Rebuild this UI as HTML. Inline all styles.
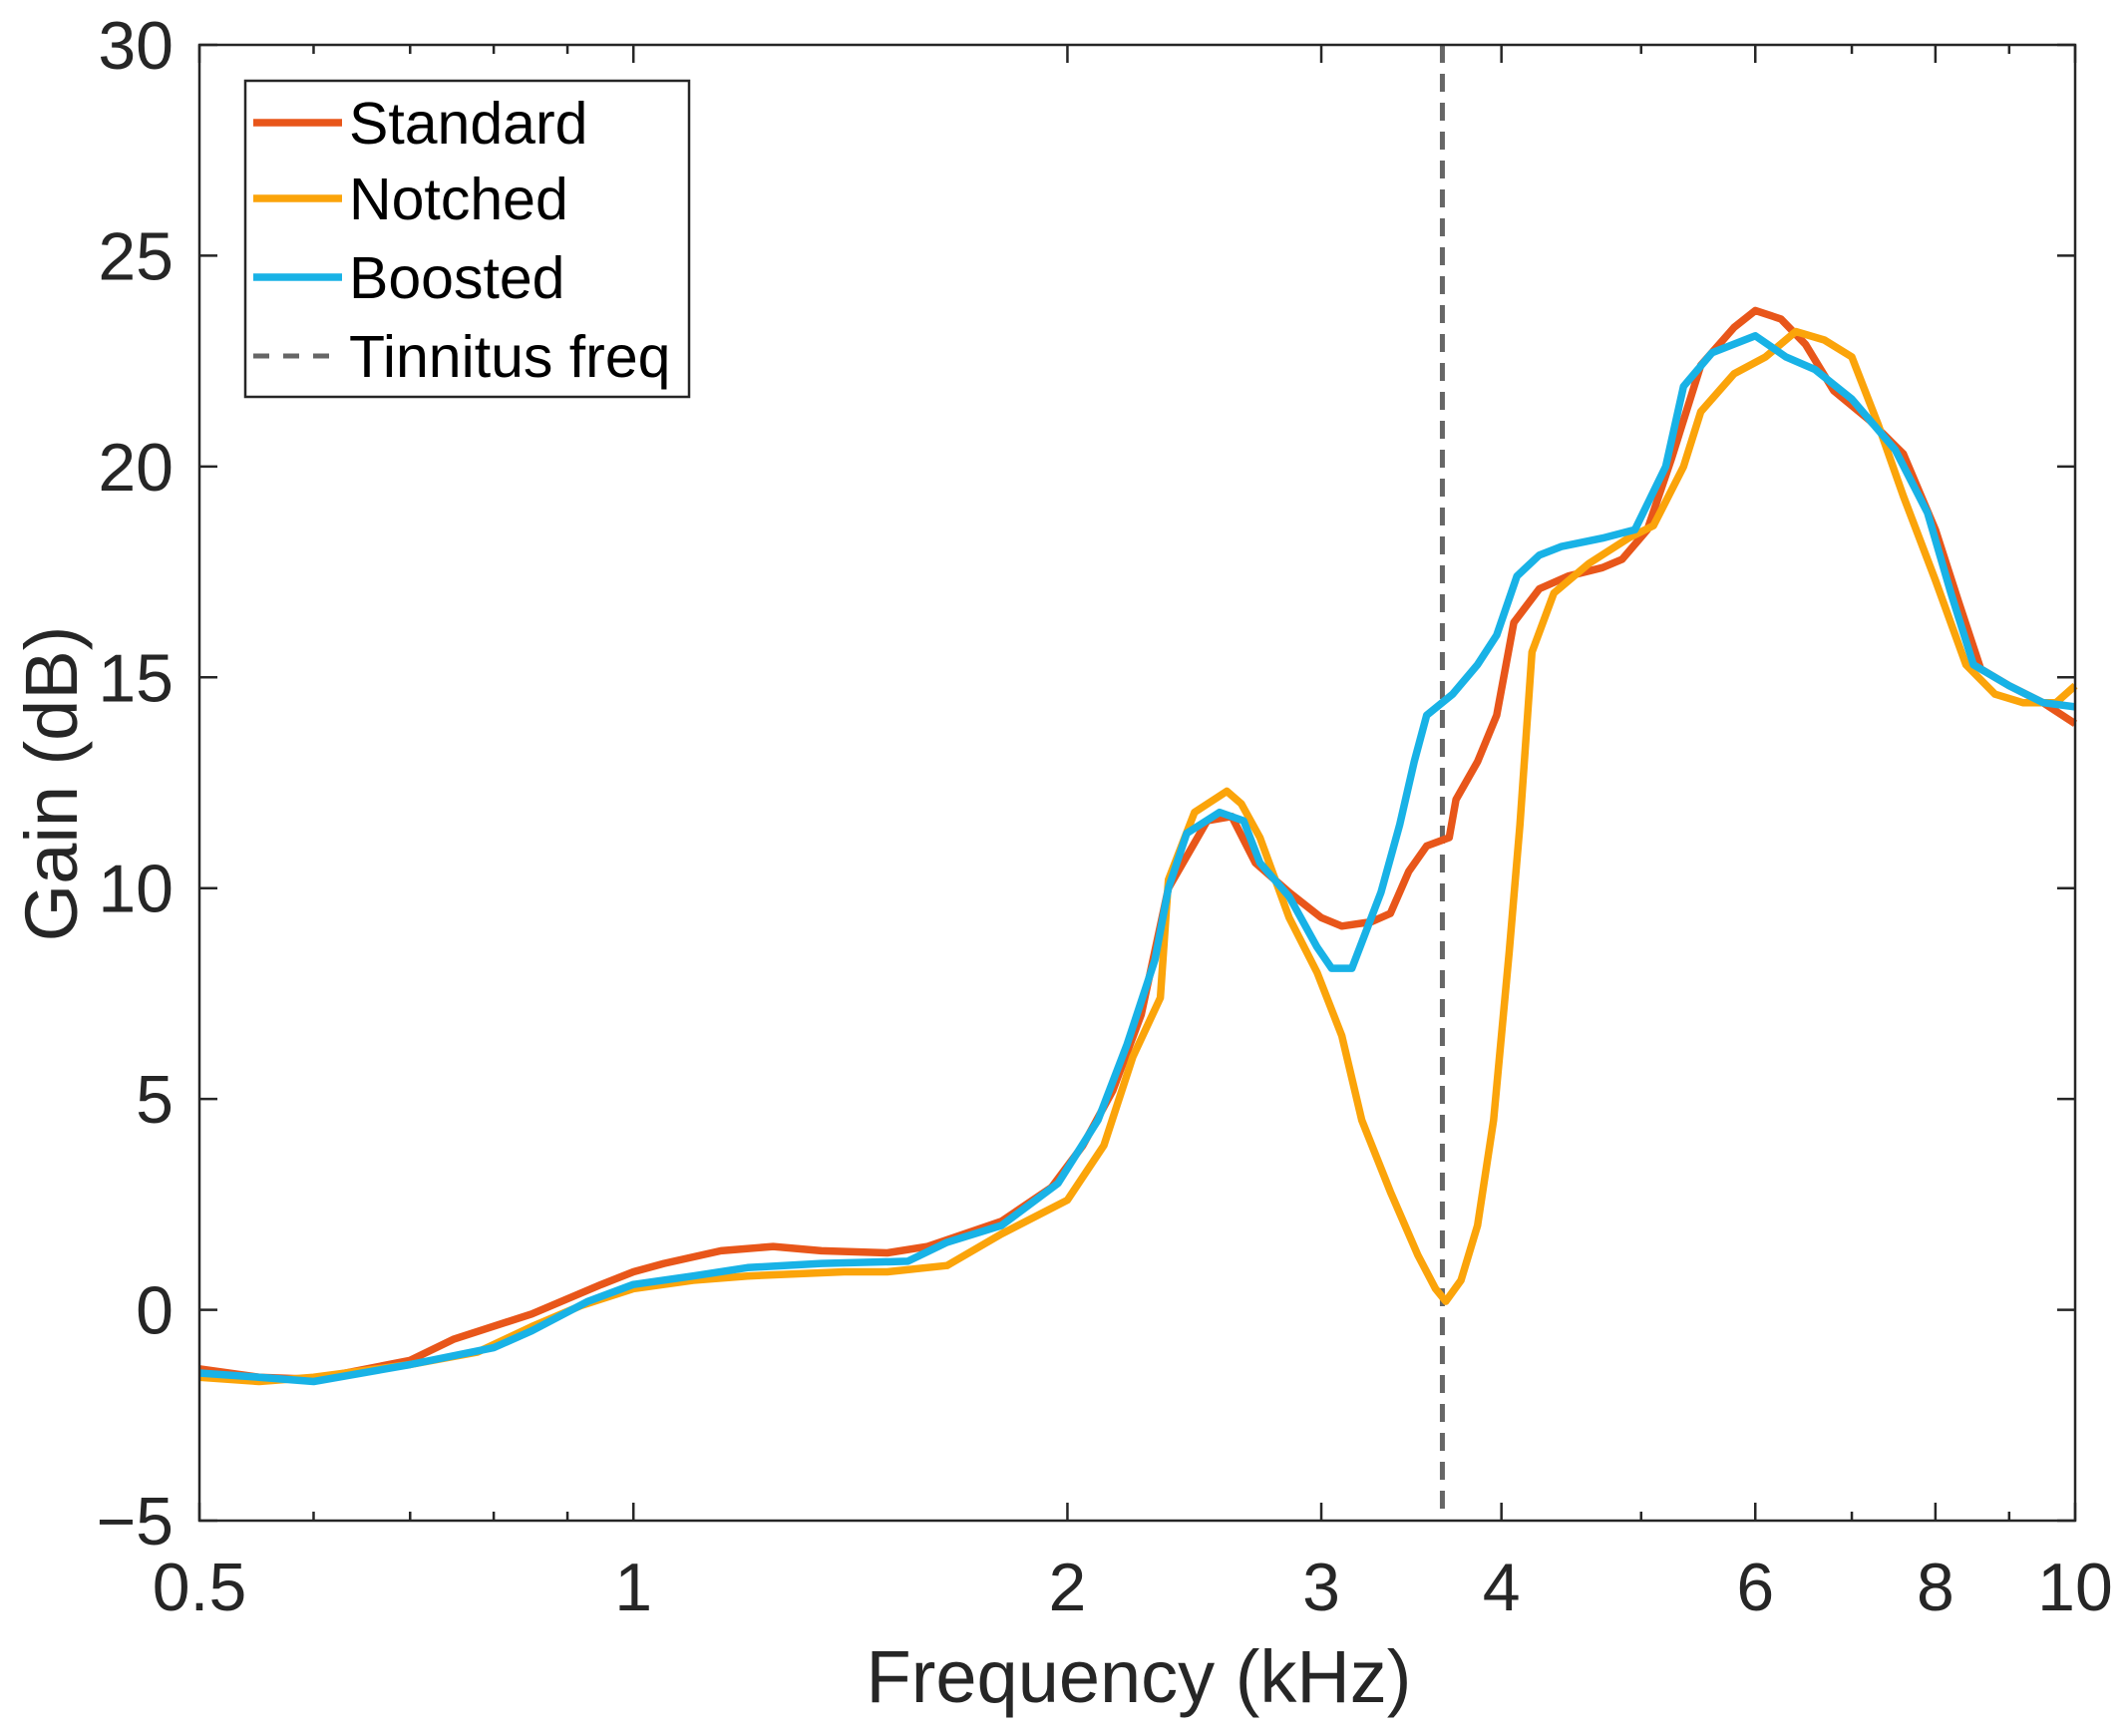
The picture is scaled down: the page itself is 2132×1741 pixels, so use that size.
<!DOCTYPE html>
<html><head><meta charset="utf-8"><style>
html,body{margin:0;padding:0;background:#fff;}
svg{display:block;font-family:"Liberation Sans",Arial,sans-serif;}
</style></head><body>
<svg id="chart" width="2132" height="1741" xmlns="http://www.w3.org/2000/svg"></svg>
<script>
const xTicks = [0.5, 1, 2, 3, 4, 6, 8, 10];
const xTickLabels = ["0.5", "1", "2", "3", "4", "6", "8", "10"];
const xMinor = [0.6, 0.7, 0.8, 0.9, 5, 7, 9];
const yTicks = [-5, 0, 5, 10, 15, 20, 25, 30];
const yTickLabels = ["\u22125", "0", "5", "10", "15", "20", "25", "30"];
const tinnitusFreq = 3.64;

const stdF = [0.5,0.55,0.6,0.7,0.75,0.85,0.95,1.0,1.05,1.15,1.25,1.35,1.5,1.6,1.8,1.95,2.05,2.15,2.25,2.35,2.5,2.6,2.7,2.85,3.0,3.1,3.25,3.35,3.45,3.55,3.68,3.72,3.85,3.97,4.08,4.25,4.45,4.7,4.85,5.05,5.25,5.5,5.8,6.0,6.25,6.5,6.8,7.2,7.6,8.0,8.3,8.6,9.0,9.5,10];
const stdG = [-1.4,-1.6,-1.65,-1.2,-0.7,-0.1,0.6,0.9,1.1,1.4,1.5,1.4,1.35,1.5,2.1,2.9,3.9,5.2,7.0,10.0,11.6,11.7,10.6,9.9,9.3,9.1,9.2,9.4,10.4,11.0,11.2,12.1,13.0,14.1,16.3,17.1,17.4,17.6,17.8,18.5,20.2,22.4,23.3,23.7,23.5,22.9,21.8,21.1,20.3,18.5,16.8,15.2,14.8,14.4,13.9];

const notF = [0.5,0.55,0.6,0.7,0.78,0.85,0.92,1.0,1.1,1.2,1.4,1.5,1.65,1.8,2.0,2.12,2.22,2.32,2.35,2.45,2.58,2.64,2.72,2.85,2.98,3.1,3.2,3.35,3.5,3.6,3.66,3.75,3.85,3.95,4.05,4.12,4.2,4.35,4.6,4.9,5.1,5.35,5.5,5.8,6.1,6.4,6.7,7.0,7.3,7.6,8.0,8.4,8.8,9.2,9.7,10];
const notG = [-1.6,-1.7,-1.6,-1.3,-1.0,-0.4,0.1,0.5,0.7,0.8,0.9,0.9,1.05,1.8,2.6,3.9,6.0,7.4,10.2,11.8,12.3,12.0,11.2,9.3,8.0,6.5,4.5,2.8,1.3,0.5,0.2,0.7,2.0,4.5,8.5,11.5,15.6,17.0,17.7,18.3,18.6,20.0,21.3,22.2,22.6,23.2,23.0,22.6,21.0,19.3,17.3,15.3,14.6,14.4,14.4,14.8];

const booF = [0.5,0.55,0.6,0.7,0.8,0.85,0.93,1.0,1.1,1.2,1.35,1.55,1.65,1.8,1.97,2.1,2.2,2.3,2.35,2.42,2.55,2.65,2.72,2.85,2.98,3.05,3.15,3.3,3.4,3.48,3.55,3.7,3.85,3.97,4.1,4.25,4.4,4.7,4.95,5.2,5.35,5.6,6.0,6.3,6.6,7.0,7.5,7.9,8.2,8.5,9.0,9.5,10];
const booG = [-1.5,-1.6,-1.7,-1.3,-0.9,-0.5,0.2,0.6,0.8,1.0,1.1,1.15,1.6,2.0,3.0,4.5,6.3,8.3,10.0,11.3,11.8,11.6,10.6,9.8,8.6,8.1,8.1,9.9,11.5,13.0,14.1,14.6,15.3,16.0,17.4,17.9,18.1,18.3,18.5,20.0,21.9,22.7,23.1,22.6,22.3,21.6,20.4,18.9,17.0,15.3,14.8,14.4,14.3];

const L=200,R=2081,T=45,B=1525;
const X=f=>L+(R-L)*Math.log10(f/0.5)/Math.log10(20);
const Y=g=>B-(B-T)*(g+5)/35;
const svg=document.getElementById('chart');
const NS="http://www.w3.org/2000/svg";
function mk(tag,attrs,parent){const e=document.createElementNS(NS,tag);for(const k in attrs)e.setAttribute(k,attrs[k]);(parent||svg).appendChild(e);return e;}

xTicks.forEach((f,i)=>{
  const x=X(f);
  const t1=mk('line',{x1:x,x2:x,y1:B,y2:B-18,stroke:'#262626','stroke-width':2.5});
  
  
  mk('line',{x1:x,x2:x,y1:T,y2:T+18,stroke:'#262626','stroke-width':2.5});
  const tx=mk('text',{x:x,y:1615,'text-anchor':'middle','font-size':68,fill:'#262626'});
  tx.textContent=xTickLabels[i];
  
  
});
xMinor.forEach(f=>{
  const x=X(f);
  mk('line',{x1:x,x2:x,y1:B,y2:B-9,stroke:'#262626','stroke-width':2.5});
  mk('line',{x1:x,x2:x,y1:T,y2:T+9,stroke:'#262626','stroke-width':2.5});
});
yTicks.forEach((g,i)=>{
  const y=Y(g);
  const t1=mk('line',{x1:L,x2:L+18,y1:y,y2:y,stroke:'#262626','stroke-width':2.5});
  
  
  mk('line',{x1:R,x2:R-18,y1:y,y2:y,stroke:'#262626','stroke-width':2.5});
  const tx=mk('text',{x:174,y:y+24,'text-anchor':'end','font-size':68,fill:'#262626'});
  tx.textContent=yTickLabels[i];
  
  
});

const tl=mk('line',{x1:X(tinnitusFreq),x2:X(tinnitusFreq),y1:T,y2:B,stroke:'#666','stroke-width':5,'stroke-dasharray':'18,11'});



function series(F,G,color,name){
  const d=F.map((f,i)=>(i?'L':'M')+X(f).toFixed(1)+','+Y(G[i]).toFixed(1)).join(' ');
  const p=mk('path',{d:d,fill:'none',stroke:color,'stroke-width':7.5,'stroke-linejoin':'round'});
  
  
}
series(stdF,stdG,'#E8561A','standard-line');
series(notF,notG,'#FBA40A','notched-line');
series(booF,booG,'#18B2E6','boosted-line');

const box=mk('rect',{x:L,y:T,width:R-L,height:B-T,fill:'none',stroke:'#262626','stroke-width':2.5});



const xt=mk('text',{x:1142,y:1707,'text-anchor':'middle','font-size':74,fill:'#262626'});
xt.textContent='Frequency (kHz)';


const yt=mk('text',{x:0,y:0,'text-anchor':'middle','font-size':74,fill:'#262626',transform:'translate(77,786) rotate(-90)'});
yt.textContent='Gain (dB)';



const lg=mk('g',{});


mk('rect',{x:246,y:81,width:445,height:317,fill:'#fff',stroke:'#262626','stroke-width':2.5},lg);
const entries=[['Standard','#E8561A',0],['Notched','#FBA40A',0],['Boosted','#18B2E6',0],['Tinnitus freq','#666',1]];
const ly=[123,199,278,357];
entries.forEach((e,i)=>{
  const y=ly[i];
  const ln=mk('line',{x1:254,x2:343,y1:y,y2:y,stroke:e[1],'stroke-width':e[2]?5:7.5,'stroke-dasharray':e[2]?'16,14':'none'},lg);
  
  
  const t=mk('text',{x:350,y:y+21,'font-size':59,fill:'#000'},lg);
  t.textContent=e[0];
  
  
});
</script>
</body></html>
